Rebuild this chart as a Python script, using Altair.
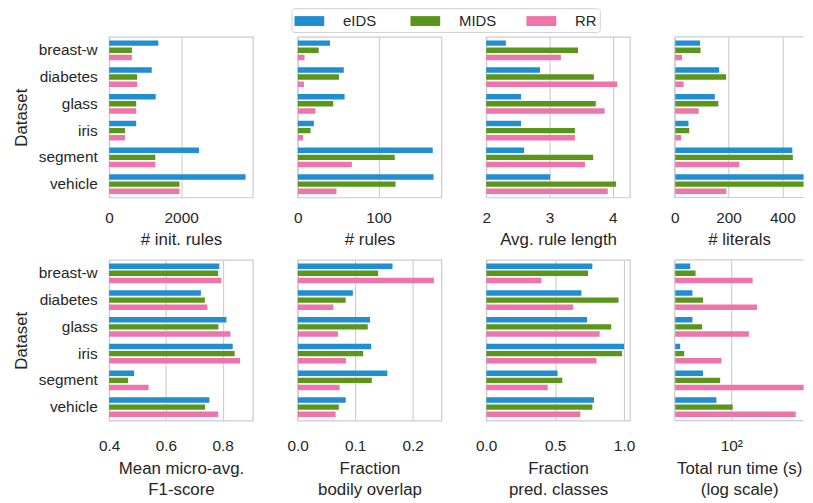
import altair as alt
import pandas as pd

datasets = ["breast-w", "diabetes", "glass", "iris", "segment", "vehicle"]
series = ["eIDS", "MIDS", "RR"]
colors = ["#1f8fd1", "#5a961a", "#ee74ab"]

init_rules_eids = [1366, 1183, 1293, 752, 2493, 3787]
init_rules_mids = [632, 779, 752, 440, 1283, 1953]
init_rules_rr = [632, 779, 752, 440, 1283, 1953]

rules_eids = [40, 57, 58, 20, 167, 168]
rules_mids = [26, 51, 44, 16, 120, 121]
rules_rr = [8.5, 7.8, 22, 6.6, 67, 48]

avglen_eids = [2.31, 2.85, 2.55, 2.55, 2.60, 3.01]
avglen_mids = [3.45, 3.70, 3.73, 3.40, 3.69, 4.05]
avglen_rr = [3.18, 4.07, 3.87, 3.40, 3.56, 3.92]

literals_eids = [94, 165, 149, 51, 437, 508]
literals_mids = [96, 191, 162, 54, 439, 506]
literals_rr = [27, 33, 89, 24, 240, 192]

f1_eids = [0.788, 0.723, 0.813, 0.835, 0.488, 0.753]
f1_mids = [0.784, 0.737, 0.785, 0.842, 0.467, 0.738]
f1_rr = [0.795, 0.746, 0.827, 0.861, 0.539, 0.784]

overlap_eids = [0.165, 0.096, 0.126, 0.128, 0.156, 0.0835]
overlap_mids = [0.140, 0.0835, 0.122, 0.114, 0.129, 0.0715]
overlap_rr = [0.237, 0.062, 0.070, 0.084, 0.073, 0.066]

predcls_eids = [0.770, 0.691, 0.732, 1.0, 0.518, 0.782]
predcls_mids = [0.739, 0.96, 0.907, 0.986, 0.552, 0.770]
predcls_rr = [0.40, 0.631, 0.823, 0.80, 0.446, 0.683]

runtime_eids = [42, 44, 44, 34, 55, 73]
runtime_mids = [47, 55, 54, 37, 79, 103]
runtime_rr = [157, 172, 145, 81, 545, 390]

metrics = {
    "init": (init_rules_eids, init_rules_mids, init_rules_rr),
    "rules": (rules_eids, rules_mids, rules_rr),
    "avglen": (avglen_eids, avglen_mids, avglen_rr),
    "literals": (literals_eids, literals_mids, literals_rr),
    "f1": (f1_eids, f1_mids, f1_rr),
    "overlap": (overlap_eids, overlap_mids, overlap_rr),
    "predcls": (predcls_eids, predcls_mids, predcls_rr),
    "runtime": (runtime_eids, runtime_mids, runtime_rr),
}

rows = []
for m, vals in metrics.items():
    for s, v in zip(series, vals):
        for d, x in zip(datasets, v):
            rows.append({"metric": m, "dataset": d, "series": s, "value": x})
df = pd.DataFrame(rows)

FONT = "Liberation Sans"
TXT = "#262626"
H = 162
W = 145
WCUT = 130

legend = alt.Legend(
    title=None, orient="none", legendX=184, legendY=-29,
    direction="horizontal", columns=3, gridAlign="all",
    symbolType="M-1.5,-0.5H1.5V0.5H-1.5Z", symbolSize=400, symbolStrokeWidth=0,
    symbolOffset=5, symbolOpacity=1, labelFontSize=15, labelFont=FONT,
    labelColor=TXT, labelOffset=24, columnPadding=30, padding=3,
    strokeColor="#d0d0d0", cornerRadius=3, fillColor="white",
)


def panel(key, title, domain, ticks, fmt=None, first=False, width=W,
          log=False, cut=False, label_expr=None, bottom=False):
    sub = df[df.metric == key]
    if first:
        yaxis = alt.Axis(title="Dataset", labelPadding=12, titlePadding=8,
                         ticks=False, domain=False, grid=False)
    else:
        yaxis = None
    xaxis_kw = dict(values=ticks, title=title, grid=True,
                    labelPadding=18 if bottom else 13,
                    titlePadding=7 if bottom else 6)
    if fmt:
        xaxis_kw["format"] = fmt
    if label_expr:
        xaxis_kw["labelExpr"] = label_expr
    base = alt.Chart(sub)
    xfield = "value:Q"
    if log:
        # log-scaled axis: bars drawn on log10 of the run time
        base = base.transform_calculate(lv="log(datum.value) / LN10")
        xfield = "lv:Q"
    enc = dict(
        y=alt.Y("dataset:N", sort=datasets,
                scale=alt.Scale(paddingInner=0, paddingOuter=0), axis=yaxis),
        yOffset=alt.YOffset("series:N", sort=series,
                            scale=alt.Scale(paddingInner=0.24, paddingOuter=0.495)),
        x=alt.X(xfield, scale=alt.Scale(domain=domain, nice=False, zero=False),
                axis=alt.Axis(**xaxis_kw)),
        x2=alt.value(0),
        color=alt.Color("series:N", sort=series,
                        scale=alt.Scale(domain=series, range=colors), legend=legend),
    )
    bars = base.mark_bar(clip=True).encode(**enc)
    if not cut:
        return bars.properties(width=width, height=H)
    edge = pd.DataFrame({"e": [0]})
    top = alt.Chart(edge).mark_rule(color="#cccccc", strokeWidth=1.25).encode(
        x=alt.value(0), x2=alt.value(width), y=alt.value(0))
    bot = alt.Chart(edge).mark_rule(color="#cccccc", strokeWidth=1.25).encode(
        x=alt.value(0), x2=alt.value(width), y=alt.value(H))
    left = alt.Chart(edge).mark_rule(color="#cccccc", strokeWidth=1.25).encode(
        x=alt.value(0), y=alt.value(0), y2=alt.value(H))
    return alt.layer(bars, top, bot, left).properties(
        width=width, height=H, view=alt.ViewBackground(stroke=None))


p1 = panel("init", "# init. rules", [0, 3990], [0, 2000], fmt="d", first=True)
p2 = panel("rules", "# rules", [0, 177.7], [0, 100], fmt="d")
p3 = panel("avglen", "Avg. rule length", [2, 4.27], [2, 3, 4], fmt="d")
p4 = panel("literals", "# literals", [0, 479], [0, 200, 400], fmt="d", width=WCUT, cut=True)
p5 = panel("f1", ["Mean micro-avg.", "F1-score"], [0.4, 0.906], [0.4, 0.6, 0.8],
           fmt=".1f", first=True, bottom=True)
p6 = panel("overlap", ["Fraction", "bodily overlap"], [0, 0.25], [0.0, 0.1, 0.2],
           fmt=".1f", bottom=True)
p7 = panel("predcls", ["Fraction", "pred. classes"], [0, 1.043], [0.0, 0.5, 1.0],
           fmt=".1f", bottom=True)
p8 = panel("runtime", ["Total run time (s)", "(log scale)"], [1.4814, 2.6632], [2],
           width=WCUT, log=True, cut=True, label_expr="'10²'", bottom=True)

chart = alt.concat(
    p1, p2, p3, p4, p5, p6, p7, p8, columns=4,
    spacing={"row": 63, "column": 45.2}, bounds="flush",
).resolve_scale(
    x="independent", color="shared"
).properties(
    padding={"left": 3, "top": -3, "right": 0, "bottom": 0}
).configure(font=FONT).configure_axis(
    labelFont=FONT, titleFont=FONT, labelFontSize=15.5, titleFontSize=17,
    labelColor=TXT, titleColor=TXT, titleFontWeight="normal", ticks=False,
    domain=False, gridColor="#cccccc", gridWidth=1.1, labelFlush=False,
    titleLineHeight=21.5, labelOverlap=False,
).configure_view(stroke="#cccccc", strokeWidth=1.25)

chart.save("out.html", embed_options={"renderer": "svg", "actions": False})
